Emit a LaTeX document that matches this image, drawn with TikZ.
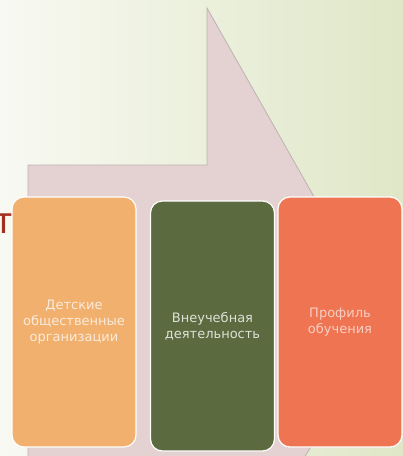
\documentclass[tikz,border=0pt]{standalone}
\usepackage{fontspec}
\setmainfont{DejaVu Sans}
\definecolor{bgwhite}{HTML}{F8F9F2}
\definecolor{bggreen}{HTML}{DFE7C7}
\definecolor{pinkfill}{HTML}{E4D1D1}
\definecolor{pinkline}{HTML}{BFB2B2}
\definecolor{tancol}{HTML}{F1B06E}
\definecolor{olivecol}{HTML}{5B6A3F}
\definecolor{coralcol}{HTML}{EE7452}
\definecolor{titlered}{HTML}{A3301F}
\begin{document}
\begin{tikzpicture}
        [x=1pt, y=-1pt,
        box/.style={rounded corners=12pt, draw=white, line width=1.2pt,
            minimum width=124pt, minimum height=250pt, align=center,
            font=\fontsize{13}{16}\selectfont},
        backshape/.style={fill=pinkfill, draw=pinkline, line width=0.8pt}]

        \useasboundingbox (0,0) rectangle (403,456);
        \clip (0,0) rectangle (403,456);

        % background
        \shade[left color=bgwhite, right color=bggreen] (0,0) rectangle (403,456);

        % clipped end of the slide title
        \node[anchor=base east, inner sep=0pt, text=titlered,
            font=\fontsize{36}{36}\selectfont] (tail) at (15,233) {т};

        % big arrow shape behind the boxes
        \draw[backshape] (28,460) -- (28,165) -- (207,165) -- (207,8)
            -- (385,322) -- (303,460) -- cycle;

        % the three boxes
        \node[box, fill=tancol, text=tancol!25!white] (org) at (74,322)
            {Детские\\общественные\\организации};
        \node[box, fill=olivecol, text=olivecol!20!white] (extra) at (212.5,326)
            {Внеучебная\\деятельность};
        \node[box, fill=coralcol, text=coralcol!35!white] (profile) at (340,322)
            {Профиль\\обучения};

    \end{tikzpicture}
\end{document}
